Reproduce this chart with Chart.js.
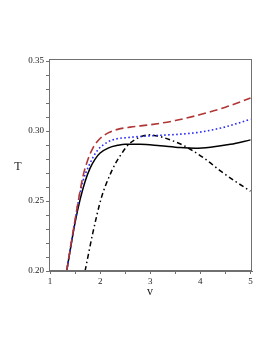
<!DOCTYPE html>
<html>
<head>
<meta charset="utf-8">
<script src="https://cdn.jsdelivr.net/npm/chart.js@4/dist/chart.umd.min.js"></script>
<style>
	html, body { margin: 0; padding: 0; background: #fff; }
	#wrap { width: 273px; height: 353px; }
</style>
</head>
<body>
<div id="wrap"><canvas id="myChart"></canvas></div>
<script>
// curve data (v, T)
var vRed = [1.333, 1.40, 1.50, 1.586, 1.66, 1.75, 1.85, 1.98, 2.15, 2.35, 2.6, 3.0, 3.5, 4.0, 4.5, 5.0]
var tRed = [0.2000, 0.2150, 0.2365, 0.2544, 0.2680, 0.2790, 0.2875, 0.2940, 0.2985, 0.3012, 0.3028, 0.3045, 0.3075, 0.3118, 0.3170, 0.3237]

var vBlue = [1.333, 1.40, 1.50, 1.586, 1.66, 1.77, 1.9, 1.97, 2.05, 2.23, 2.63, 3.0, 3.6, 4.0, 4.5, 5.0]
var tBlue = [0.2000, 0.2148, 0.2358, 0.2535, 0.2645, 0.2748, 0.2838, 0.2872, 0.2898, 0.2935, 0.2956, 0.2966, 0.2978, 0.2993, 0.3030, 0.3085]

var vBlack = [1.333, 1.40, 1.50, 1.60, 1.70, 1.80, 1.90, 2.0, 2.17, 2.35, 2.5, 2.8, 3.2, 3.6, 3.9, 4.2, 4.6, 5.0]
var tBlack = [0.2000, 0.2142, 0.2345, 0.2510, 0.2640, 0.2735, 0.2800, 0.2843, 0.2880, 0.2898, 0.2906, 0.2906, 0.2895, 0.2882, 0.2878, 0.2885, 0.2905, 0.2937]

var vDashDot = [1.70, 1.85, 2.03, 2.17, 2.30, 2.45, 2.57, 2.80, 2.97, 3.2, 3.45, 3.65, 3.80, 4.1, 4.4, 4.7, 5.0]
var tDashDot = [0.2000, 0.2265, 0.2530, 0.2665, 0.2765, 0.2850, 0.2905, 0.2958, 0.2973, 0.2960, 0.2930, 0.2900, 0.2870, 0.2800, 0.2715, 0.2640, 0.2570]

var xTickVals = [1, 1.5, 2, 2.5, 3, 3.5, 4, 4.5, 5]
var xTickLabels = ['1', '', '2', '', '3', '', '4', '', '5']
var yTickVals = [0.20, 0.21, 0.22, 0.23, 0.24, 0.25, 0.26, 0.27, 0.28, 0.29, 0.30, 0.31, 0.32, 0.33, 0.34, 0.35]
var yTickLabels = ['0.20', '', '', '', '', '0.25', '', '', '', '', '0.30', '', '', '', '', '0.35']

var xTitle = 'v'
var yTitle = 'T'

function toPoints(xs, ys) {
	return xs.map(function(x, i) { return { x: x, y: ys[i] } })
}

var axisGrey = '#707070'
var serif = "'Liberation Serif', 'DejaVu Serif', serif"

/* box around plot + axis titles */
var framePlugin = {
	id: 'frame',
	afterDraw: function(chart) {
		var a = chart.chartArea
		var c = chart.ctx
		c.save()
		c.strokeStyle = axisGrey
		c.lineWidth = 1
		c.strokeRect(a.left + 0.5, a.top + 0.5, a.right - a.left - 1, a.bottom - a.top - 1)
		c.fillStyle = '#222'
		c.font = '12px ' + serif
		c.textAlign = 'center'
		c.textBaseline = 'middle'
		c.fillText(yTitle, 18, 167)
		c.fillText(xTitle, 150, 292)
		c.restore()
	}
}

var ctx = document.getElementById('myChart').getContext('2d')
var chart = new Chart(ctx, {
	type: 'scatter',
	data: {
		datasets: [{
			data: toPoints(vRed, tRed),
			borderColor: '#b03535',
			borderWidth: 1.6,
			borderDash: [8, 4]
		}, {
			data: toPoints(vBlue, tBlue),
			borderColor: '#2a2af5',
			borderWidth: 1.6,
			borderDash: [1.6, 2.4]
		}, {
			data: toPoints(vBlack, tBlack),
			borderColor: '#000',
			borderWidth: 1.5
		}, {
			data: toPoints(vDashDot, tDashDot),
			borderColor: '#000',
			borderWidth: 1.5,
			borderDash: [5, 3, 1.5, 3]
		}]
	},
	options: {
		responsive: true,
		maintainAspectRatio: false,
		animation: false,
		showLine: true,
		elements: {
			point: { radius: 0 },
			line: { cubicInterpolationMode: 'monotone', fill: false }
		},
		layout: { padding: { top: 59, right: 21, bottom: 0, left: 0 } },
		plugins: { legend: { display: false }, tooltip: { enabled: false } },
		scales: {
			x: {
				type: 'linear',
				min: 0.98,
				max: 5.03,
				afterBuildTicks: function(scale) {
					scale.ticks = xTickVals.map(function(v) { return { value: v } })
				},
				afterFit: function(scale) { scale.height = 82 },
				border: { display: true, color: axisGrey },
				grid: { drawOnChartArea: false, drawTicks: true, tickLength: 3, color: axisGrey },
				ticks: {
					autoSkip: false,
					maxRotation: 0,
					padding: 2,
					color: '#222',
					font: { family: serif, size: 9 },
					callback: function(v, i) { return xTickLabels[i] }
				}
			},
			y: {
				type: 'linear',
				min: 0.2,
				max: 0.3515,
				afterBuildTicks: function(scale) {
					scale.ticks = yTickVals.map(function(v) { return { value: v } })
				},
				afterFit: function(scale) { scale.width = 49 },
				border: { display: true, color: axisGrey },
				grid: { drawOnChartArea: false, drawTicks: true, tickLength: 3, color: axisGrey },
				ticks: {
					autoSkip: false,
					padding: 2,
					color: '#222',
					font: { family: serif, size: 9 },
					callback: function(v, i) { return yTickLabels[i] }
				}
			}
		}
	},
	plugins: [framePlugin]
})
</script>
</body>
</html>
